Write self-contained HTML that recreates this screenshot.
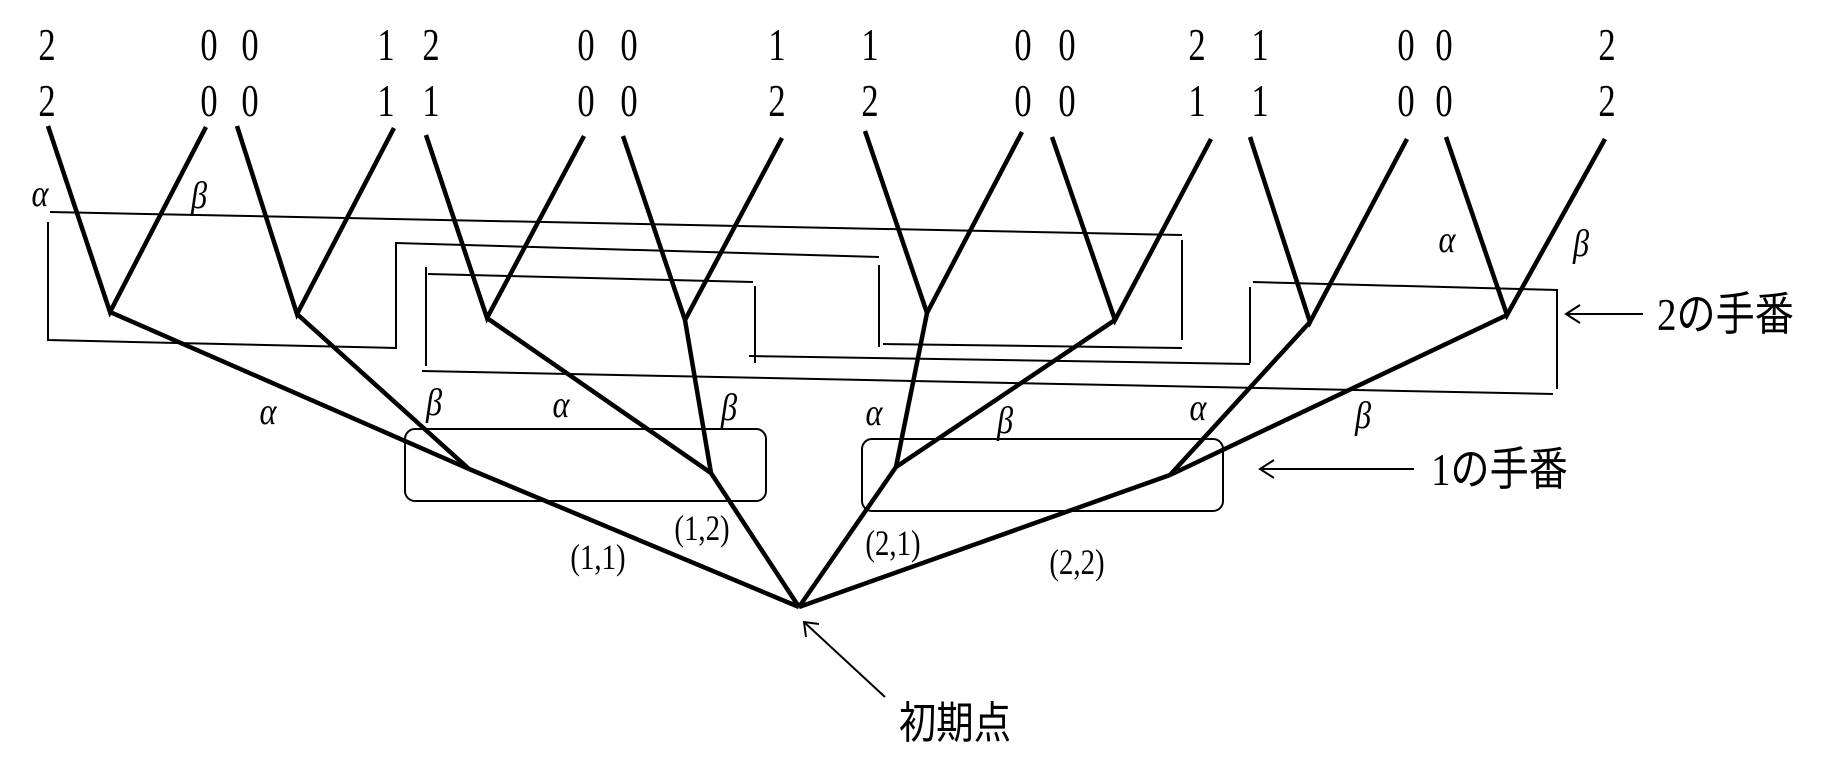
<!DOCTYPE html>
<html><head><meta charset="utf-8"><style>
html,body{margin:0;padding:0;background:#fff}
svg{display:block}
text{font-family:"Liberation Serif","Noto Serif CJK SC",serif;fill:#000}
.j{font-family:"Liberation Serif","Noto Sans CJK JP",sans-serif}
</style></head><body>
<svg width="1846" height="774" viewBox="0 0 1846 774" xmlns="http://www.w3.org/2000/svg">
<g stroke="#000" stroke-width="4.5" fill="none" stroke-linecap="butt">
<line x1="799" y1="607" x2="469" y2="469"/>
<line x1="799" y1="607" x2="711" y2="473"/>
<line x1="799" y1="607" x2="896" y2="467"/>
<line x1="799" y1="607" x2="1170" y2="475"/>
<line x1="469" y1="469" x2="110" y2="312"/>
<line x1="469" y1="469" x2="297" y2="314"/>
<line x1="711" y1="473" x2="487" y2="318"/>
<line x1="711" y1="473" x2="685" y2="320"/>
<line x1="896" y1="467" x2="927" y2="313"/>
<line x1="896" y1="467" x2="1115" y2="320"/>
<line x1="1170" y1="475" x2="1310" y2="322"/>
<line x1="1170" y1="475" x2="1507" y2="315"/>
<polyline points="48,126 110,312 206,127"/>
<polyline points="237,126 297,314 394,128"/>
<polyline points="426,135 487,318 584,136"/>
<polyline points="623,136 685,320 782,138"/>
<polyline points="865,131 927,313 1022,132"/>
<polyline points="1052,137 1115,320 1211,139"/>
<polyline points="1250,137 1310,322 1407,139"/>
<polyline points="1446,137 1507,315 1605,139"/>
</g>
<g stroke="#000" stroke-width="2" fill="none">
<line x1="50" y1="212" x2="1182" y2="235"/>
<line x1="1182" y1="240" x2="1182" y2="340"/>
<line x1="883" y1="344" x2="1182" y2="348"/>
<line x1="879" y1="265" x2="879" y2="347"/>
<polyline points="48,222 48,340 396,348 396,243 879,257"/>
<line x1="428" y1="274" x2="753" y2="282"/>
<line x1="426" y1="267" x2="426" y2="366"/>
<line x1="422" y1="371" x2="1553" y2="394"/>
<polyline points="1253,282 1557,290 1557,389"/>
<line x1="1250" y1="287" x2="1250" y2="363"/>
<line x1="749" y1="356" x2="1250" y2="364"/>
<line x1="755" y1="286" x2="755" y2="363"/>
<rect x="405" y="429" width="361" height="72" rx="10"/>
<rect x="862" y="439" width="361" height="72" rx="10"/>
<line x1="1643" y1="314" x2="1566" y2="314"/>
<polyline points="1580,305 1566,314 1580,323"/>
<line x1="1414" y1="469" x2="1260" y2="469"/>
<polyline points="1274,460 1260,469 1274,478"/>
<line x1="885" y1="697" x2="804" y2="622"/>
<polyline points="806,637 804,622 819,624"/>
</g>
<g font-size="46" text-anchor="middle">
<text transform="translate(47,60) scale(0.75,1)">2</text><text transform="translate(47,116) scale(0.75,1)">2</text>
<text transform="translate(209,60) scale(0.75,1)">0</text><text transform="translate(209,116) scale(0.75,1)">0</text>
<text transform="translate(250,60) scale(0.75,1)">0</text><text transform="translate(250,116) scale(0.75,1)">0</text>
<text transform="translate(386,60) scale(0.75,1)">1</text><text transform="translate(386,116) scale(0.75,1)">1</text>
<text transform="translate(431,60) scale(0.75,1)">2</text><text transform="translate(431,116) scale(0.75,1)">1</text>
<text transform="translate(586,60) scale(0.75,1)">0</text><text transform="translate(586,116) scale(0.75,1)">0</text>
<text transform="translate(629,60) scale(0.75,1)">0</text><text transform="translate(629,116) scale(0.75,1)">0</text>
<text transform="translate(777,60) scale(0.75,1)">1</text><text transform="translate(777,116) scale(0.75,1)">2</text>
<text transform="translate(870,60) scale(0.75,1)">1</text><text transform="translate(870,116) scale(0.75,1)">2</text>
<text transform="translate(1023,60) scale(0.75,1)">0</text><text transform="translate(1023,116) scale(0.75,1)">0</text>
<text transform="translate(1067,60) scale(0.75,1)">0</text><text transform="translate(1067,116) scale(0.75,1)">0</text>
<text transform="translate(1197,60) scale(0.75,1)">2</text><text transform="translate(1197,116) scale(0.75,1)">1</text>
<text transform="translate(1260,60) scale(0.75,1)">1</text><text transform="translate(1260,116) scale(0.75,1)">1</text>
<text transform="translate(1406,60) scale(0.75,1)">0</text><text transform="translate(1406,116) scale(0.75,1)">0</text>
<text transform="translate(1444,60) scale(0.75,1)">0</text><text transform="translate(1444,116) scale(0.75,1)">0</text>
<text transform="translate(1607,60) scale(0.75,1)">2</text><text transform="translate(1607,116) scale(0.75,1)">2</text>
</g>
<g font-size="38" font-style="italic" text-anchor="middle">
<text transform="translate(40,206) scale(0.85,1)">α</text><text transform="translate(199,208) scale(0.85,1)">β</text>
<text transform="translate(1447,252) scale(0.85,1)">α</text><text transform="translate(1581,256) scale(0.85,1)">β</text>
<text transform="translate(268,424) scale(0.85,1)">α</text>
<text transform="translate(434,415) scale(0.85,1)">β</text><text transform="translate(561,417) scale(0.85,1)">α</text><text transform="translate(729,420) scale(0.85,1)">β</text>
<text transform="translate(874,425) scale(0.85,1)">α</text><text transform="translate(1005,433) scale(0.85,1)">β</text><text transform="translate(1198,420) scale(0.85,1)">α</text>
<text transform="translate(1363,428) scale(0.85,1)">β</text>
</g>
<g font-size="36" text-anchor="middle">
<text transform="translate(598,569) scale(0.8,1)">(1,1)</text>
<text transform="translate(702,540) scale(0.8,1)">(1,2)</text>
<text transform="translate(893,555) scale(0.8,1)">(2,1)</text>
<text transform="translate(1077,574) scale(0.8,1)">(2,2)</text>
</g>
<text class="j" transform="translate(1657,330) scale(0.85,1)" font-size="46">2の手番</text>
<text class="j" transform="translate(1431,485) scale(0.85,1)" font-size="46">1の手番</text>
<text class="j" transform="translate(955,738) scale(0.85,1)" font-size="44" text-anchor="middle">初期点</text>
</svg>
</body></html>
